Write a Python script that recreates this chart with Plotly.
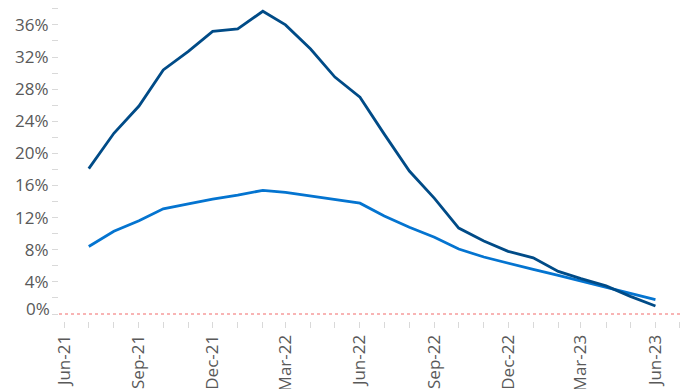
import plotly.graph_objects as go

# Monthly observations, Jul-21 to Jun-23
months = [
    "2021-07-01", "2021-08-01", "2021-09-01", "2021-10-01", "2021-11-01", "2021-12-01",
    "2022-01-01", "2022-02-01", "2022-03-01", "2022-04-01", "2022-05-01", "2022-06-01",
    "2022-07-01", "2022-08-01", "2022-09-01", "2022-10-01", "2022-11-01", "2022-12-01",
    "2023-01-01", "2023-02-01", "2023-03-01", "2023-04-01", "2023-05-01", "2023-06-01",
]
series_dark = [18.1, 22.5, 25.9, 30.4, 32.7, 35.2, 35.5, 37.7, 36.0, 33.0, 29.5, 27.0,
               22.4, 17.8, 14.4, 10.7, 9.1, 7.8, 7.0, 5.3, 4.4, 3.5, 2.2, 1.0]
series_light = [8.4, 10.3, 11.6, 13.1, 13.7, 14.3, 14.8, 15.4, 15.15, 14.7, 14.3, 13.8,
                12.2, 10.8, 9.55, 8.1, 7.1, 6.3, 5.55, 4.8, 4.1, 3.4, 2.65, 1.8]

y_ticks = [0, 4, 8, 12, 16, 20, 24, 28, 32, 36]
y_ticktext = ["" if v == 0 else f"{v}%" for v in y_ticks]

FONT = "Open Sans"
GREY = "#595959"

fig = go.Figure()
fig.add_trace(go.Scatter(x=months, y=series_light, mode="lines",
                         line=dict(color="#0474D0", width=2.8), showlegend=False))
fig.add_trace(go.Scatter(x=months, y=series_dark, mode="lines",
                         line=dict(color="#004B87", width=2.8), showlegend=False))

# dotted zero reference line
fig.add_shape(type="line", xref="paper", x0=0, x1=1, yref="y", y0=0, y1=0,
              line=dict(color="rgba(240,90,90,0.6)", width=1.3, dash="dot"))

# zero label sits slightly above its tick
fig.add_annotation(text="0%", xref="paper", x=0, xshift=-7, xanchor="right",
                   yref="y", y=0, yshift=6, yanchor="middle", showarrow=False,
                   font=dict(family=FONT, size=17, color=GREY))

fig.update_xaxes(
    type="date",
    range=["2021-05-25 05:00", "2023-07-01 08:00"],
    tick0="2021-06-01", dtick="M3", tickformat="%b-%y", tickangle=-90,
    ticks="outside", ticklen=6, tickcolor="#D9D9D9", tickwidth=1,
    minor=dict(dtick="M1", tick0="2021-06-01", ticks="outside", ticklen=6,
               tickcolor="#D9D9D9", tickwidth=1, showgrid=False),
    showgrid=False, showline=False, zeroline=False,
    tickfont=dict(family=FONT, size=17, color=GREY),
    automargin=False,
)
fig.update_yaxes(
    range=[-0.87, 39.1],
    tickvals=y_ticks, ticktext=y_ticktext,
    ticks="outside", ticklen=6, tickcolor="#D9D9D9", tickwidth=1,
    minor=dict(dtick=2, tick0=0, ticks="outside", ticklen=6,
               tickcolor="#D9D9D9", tickwidth=1, showgrid=False),
    showgrid=False, showline=False, zeroline=False,
    tickfont=dict(family=FONT, size=17, color=GREY),
    automargin=False,
)

fig.update_layout(
    width=680, height=389,
    margin=dict(l=59, r=0, t=0, b=68),
    paper_bgcolor="white", plot_bgcolor="white",
    showlegend=False,
)

fig.write_html("out.html")
